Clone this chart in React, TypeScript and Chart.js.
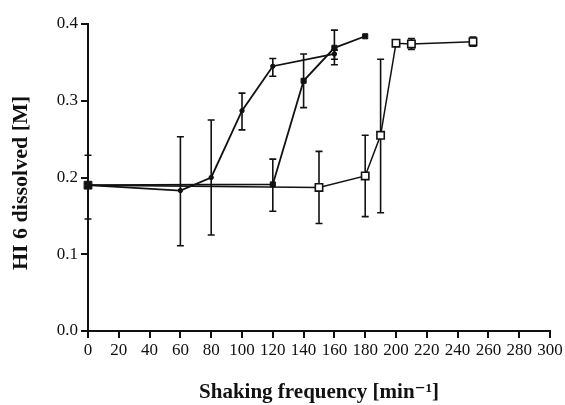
import React, { useEffect, useRef } from "react";
import { Chart, registerables } from "chart.js";

Chart.register(...registerables);

const xTicks = [0, 20, 40, 60, 80, 100, 120, 140, 160, 180, 200, 220, 240, 260, 280, 300];
const yTicks = [0.0, 0.1, 0.2, 0.3, 0.4];

const seriesAX = [0, 60, 80, 100, 120, 160];
const seriesAY = [0.19, 0.183, 0.2, 0.287, 0.345, 0.361];
const seriesAHi = [0.229, 0.253, 0.275, 0.31, 0.355, 0.366];
const seriesALo = [0.146, 0.111, 0.125, 0.262, 0.332, 0.354];

const seriesBX = [0, 120, 140, 160, 180];
const seriesBY = [0.19, 0.191, 0.326, 0.369, 0.384];
const seriesBHi = [null, 0.224, 0.361, 0.392, null];
const seriesBLo = [null, 0.156, 0.291, 0.347, null];

const seriesCX = [0, 150, 180, 190, 200, 210, 250];
const seriesCY = [0.19, 0.187, 0.202, 0.255, 0.375, 0.374, 0.377];
const seriesCHi = [null, 0.234, 0.255, 0.354, null, 0.381, 0.383];
const seriesCLo = [null, 0.14, 0.149, 0.154, null, 0.367, 0.371];

const FONT = "'Liberation Serif', 'DejaVu Serif', serif";

function toPoints(xs: number[], ys: number[]) {
  return xs.map((x, i) => ({ x, y: ys[i] }));
}

const errorBars = {
  id: "errorBars",
  beforeDatasetsDraw(chart: any) {
    const ctx = chart.ctx;
    const xs = chart.scales.x;
    const ys = chart.scales.y;
    const sets = [
      [seriesAX, seriesAHi, seriesALo],
      [seriesBX, seriesBHi, seriesBLo],
      [seriesCX, seriesCHi, seriesCLo],
    ] as any[];
    ctx.save();
    ctx.strokeStyle = "#111";
    ctx.lineWidth = 1.6;
    for (const [xArr, hi, lo] of sets) {
      xArr.forEach((xv: number, i: number) => {
        if (hi[i] == null || lo[i] == null) return;
        const px = xs.getPixelForValue(xv);
        const pt = ys.getPixelForValue(hi[i]);
        const pb = ys.getPixelForValue(lo[i]);
        ctx.beginPath();
        ctx.moveTo(px, pt);
        ctx.lineTo(px, pb);
        ctx.moveTo(px - 3.5, pt);
        ctx.lineTo(px + 3.5, pt);
        ctx.moveTo(px - 3.5, pb);
        ctx.lineTo(px + 3.5, pb);
        ctx.stroke();
      });
    }
    ctx.restore();
  },
};

export default function App() {
  const ref = useRef<HTMLCanvasElement | null>(null);
  useEffect(() => {
    if (!ref.current) return;
    const chart = new Chart(ref.current, {
      type: "line",
      data: {
        datasets: [
          {
            label: "A",
            data: toPoints(seriesAX, seriesAY),
            borderColor: "#111",
            backgroundColor: "#111",
            borderWidth: 1.8,
            pointStyle: "circle",
            pointRadius: seriesAX.map((x) => (x === 0 ? 0 : 2.2)),
            pointBorderWidth: 1,
            tension: 0,
            clip: false,
          },
          {
            label: "B",
            data: toPoints(seriesBX, seriesBY),
            borderColor: "#111",
            backgroundColor: "#111",
            borderWidth: 1.8,
            pointStyle: "rect",
            pointRadius: seriesBX.map((x) => (x === 0 ? 5.5 : 3.6)),
            pointBorderWidth: 1,
            tension: 0,
            clip: false,
          },
          {
            label: "C",
            data: toPoints(seriesCX, seriesCY),
            borderColor: "#111",
            backgroundColor: "#fff",
            borderWidth: 1.5,
            pointStyle: "rect",
            pointRadius: seriesCX.map((x) => (x === 0 ? 0 : 5.2)),
            pointBackgroundColor: "#fff",
            pointBorderColor: "#111",
            pointBorderWidth: 1.6,
            tension: 0,
            clip: false,
          },
        ],
      },
      options: {
        responsive: false,
        animation: false,
        events: [],
        layout: { padding: { left: 0, top: 24, right: 15, bottom: 0 } },
        plugins: { legend: { display: false }, tooltip: { enabled: false } },
        scales: {
          x: {
            type: "linear",
            min: 0,
            max: 300,
            afterBuildTicks: (s: any) => {
              s.ticks = xTicks.map((v) => ({ value: v }));
            },
            afterFit: (s: any) => {
              s.height = 74;
            },
            border: { display: true, color: "#111", width: 2 },
            grid: { display: true, drawOnChartArea: false, drawTicks: true, tickLength: 7, color: "#111", lineWidth: 2 },
            ticks: {
              autoSkip: false,
              maxRotation: 0,
              padding: 2,
              color: "#111",
              font: { family: FONT, size: 17 },
            },
            title: {
              display: true,
              text: "Shaking frequency [min\u207B\u00B9]",
              color: "#111",
              font: { family: FONT, size: 21, weight: "bold" },
              padding: { top: 4, bottom: 0 },
            },
          },
          y: {
            type: "linear",
            min: 0,
            max: 0.4,
            afterBuildTicks: (s: any) => {
              s.ticks = yTicks.map((v) => ({ value: v }));
            },
            afterFit: (s: any) => {
              s.width = 88;
            },
            border: { display: true, color: "#111", width: 2 },
            grid: { display: true, drawOnChartArea: false, drawTicks: true, tickLength: 7, color: "#111", lineWidth: 2 },
            ticks: {
              padding: 3,
              color: "#111",
              font: { family: FONT, size: 17 },
              callback: (v: any) => Number(v).toFixed(1),
            },
            title: {
              display: true,
              text: "HI 6 dissolved [M]\u00A0\u00A0",
              color: "#111",
              font: { family: FONT, size: 22, weight: "bold" },
              padding: { top: 8, bottom: 4 },
            },
          },
        },
      },
      plugins: [errorBars],
    } as any);
    return () => chart.destroy();
  }, []);
  return (
    <div style={{ position: "fixed", left: 0, top: 0, width: 565, height: 405, background: "#fff" }}>
      <canvas ref={ref} width={565} height={405} style={{ width: 565, height: 405 }} />
    </div>
  );
}
